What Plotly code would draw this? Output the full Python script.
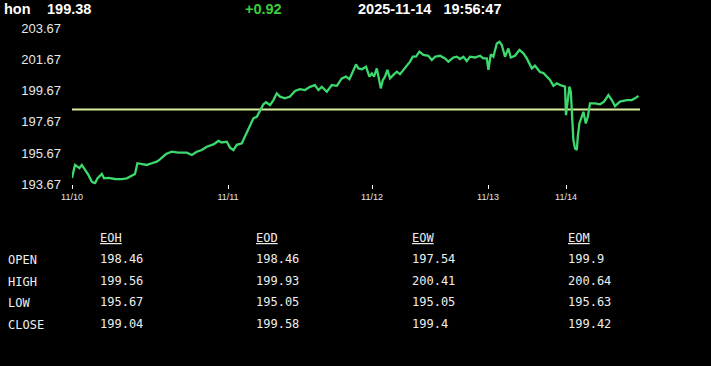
import plotly.graph_objects as go

W, H = 711, 366

# ---- data ----
symbol = "hon"
last_price = "199.38"
change = "+0.92"
stamp = "2025-11-14   19:56:47"

session_idx = [0, 1.5, 2.7, 3.7, 4.9, 6.5, 8.2, 9.9, 11.5, 12.7, 14.9, 16, 18.2, 21.5, 24.9, 27.4,
               29.9, 31.5, 32.7, 34.9, 37.4, 39.9, 42.4, 44, 47, 49.9, 53.2, 57.4, 59.9, 62.4, 64.9,
               67.4, 70.7, 73.2, 74.9, 77.4, 79, 80.7, 82.4, 84.9, 86.5, 88.2, 90.7, 92.4, 94, 95.7,
               97, 99, 100.7, 102.4, 104, 106.5, 109, 111.5, 114, 116.5, 119, 121.5, 123.2, 124.9,
               127.4, 129.9, 132.4, 134.9, 137, 138.7, 140.4, 142, 143.2, 144.9, 147, 148.7, 149.9,
               151, 152.4, 153.5, 154.4, 155.4, 156.5, 157.7, 159, 160.7, 162.4, 164, 165.7, 167.4,
               169, 170.4, 172, 173.7, 175.7, 178.2, 179.9, 181.5, 184, 186.5, 188.2, 190.7, 192.4,
               194, 195.7, 197.4, 199, 201.5, 204, 205.7, 207.4, 208.2, 209.4, 210.7, 212.4, 213.7,
               214.9, 216.5, 218.2, 219.4, 221.5, 223.7, 225.7, 227.4, 229.9, 231.5, 234, 235.7,
               237.7, 239, 240.7, 242.4, 244.9, 246.5, 247, 247.7, 248.7, 249.4, 249.9, 250.7, 251.5,
               252.4, 252.9, 253.7, 254.9, 255.7, 256.9, 257.9, 259, 261.5, 264, 266, 268.2, 269.9,
               271.5, 274, 277.4, 279.9, 281.5, 283.2]
price = [194.08, 194.91, 194.80, 194.70, 194.91, 194.59, 194.27, 193.84, 193.73, 194.05, 194.33,
         194.05, 194.08, 194.01, 194.00, 194.05, 194.20, 194.33, 195.02, 194.99, 194.91, 195.02,
         195.12, 195.27, 195.61, 195.76, 195.70, 195.70, 195.55, 195.76, 195.87, 196.08, 196.23,
         196.45, 196.35, 196.40, 196.02, 195.86, 196.20, 196.30, 196.72, 197.15, 197.90, 198.00,
         198.43, 198.80, 198.93, 198.75, 199.07, 199.50, 199.29, 199.18, 199.29, 199.65, 199.77,
         199.71, 199.92, 200.03, 199.71, 199.92, 199.60, 200.03, 199.98, 200.46, 200.57, 200.40,
         200.89, 201.36, 201.10, 201.05, 201.21, 200.57, 200.78, 200.57, 201.10, 200.46, 199.82,
         200.35, 200.57, 201.00, 200.46, 200.68, 200.89, 200.73, 201.00, 201.20, 201.53, 201.85,
         201.85, 202.17, 201.96, 201.91, 201.64, 201.85, 201.91, 201.74, 201.53, 201.80, 201.85,
         201.70, 201.85, 201.57, 201.85, 201.80, 201.91, 201.74, 201.74, 201.00, 202.00, 201.85,
         202.70, 202.81, 202.60, 201.85, 202.38, 201.80, 201.91, 202.28, 202.07, 201.74, 201.10,
         201.27, 200.87, 200.80, 200.57, 200.36, 199.98, 200.14, 199.99, 199.93, 198.10, 198.85,
         199.93, 199.60, 198.00, 196.51, 195.97, 195.87, 196.72, 197.57, 198.00, 198.32, 197.57,
         198.00, 198.86, 198.86, 198.80, 198.97, 199.39, 199.07, 198.68, 198.97, 199.07, 199.07,
         199.18, 199.33]

open_level = 198.46
axis_end_idx = 284

date_tick_idx = [0, 78, 150, 208, 247]
date_tick_text = ["11/10", "11/11", "11/12", "11/13", "11/14"]
price_ticks = [193.67, 195.67, 197.67, 199.67, 201.67, 203.67]
price_tick_text = ["193.67", "195.67", "197.67", "199.67", "201.67", "203.67"]

row_labels = ["OPEN", "HIGH", "LOW", "CLOSE"]
col_labels = ["EOH", "EOD", "EOW", "EOM"]
eoh = ["198.46", "199.56", "195.67", "199.04"]
eod = ["198.46", "199.93", "195.05", "199.58"]
eow = ["197.54", "200.41", "195.05", "199.4"]
eom = ["199.9", "200.64", "195.63", "199.42"]
table_cols = [eoh, eod, eow, eom]

# ---- figure ----
fig = go.Figure()
fig.add_trace(go.Scatter(x=[0, axis_end_idx], y=[open_level, open_level], mode="lines",
                         line=dict(color="#d8ec9e", width=2), hoverinfo="skip"))
fig.add_trace(go.Scatter(x=session_idx, y=price, mode="lines",
                         line=dict(color="#3cd96c", width=2.3)))

def px_x(p):
    return p / W

def px_y(p):
    return 1 - p / H

fig.update_layout(
    width=W, height=H, paper_bgcolor="black", plot_bgcolor="black",
    margin=dict(l=0, r=0, t=0, b=0, pad=0, autoexpand=False), showlegend=False,
    xaxis=dict(domain=[px_x(72), px_x(640)], range=[0, axis_end_idx], showgrid=False,
               zeroline=False, showline=False, automargin=False,
               tickmode="array", tickvals=date_tick_idx,
               ticktext=date_tick_text, ticks="outside", ticklen=4, tickcolor="white",
               tickwidth=1, tickfont=dict(family="Liberation Sans", size=9, color="#e6e6e6"),
               ticklabelstandoff=0),
    yaxis=dict(domain=[px_y(184.3), px_y(28.3)], range=[193.67, 203.67], showgrid=False,
               zeroline=False, showline=False, automargin=False,
               tickmode="array", tickvals=price_ticks,
               ticktext=price_tick_text, ticks="",
               tickfont=dict(family="Liberation Sans", size=13, color="#e8e8e8"),
               ticklabelstandoff=10),
)

ann = []
hdr_font = dict(family="Liberation Sans, Arial", size=14.5, color="white", weight="bold")
for txt, x, col in [(symbol, 3, "white"), (last_price, 46, "white"),
                    (change, 244, "#3ccc3c"), (stamp, 357, "white")]:
    f = dict(hdr_font)
    f["color"] = col
    ann.append(dict(text=txt, x=px_x(x), y=px_y(9.5), xref="paper", yref="paper",
                    xanchor="left", yanchor="middle", showarrow=False, font=f,
                    xshift=-1))

mono = dict(family="DejaVu Sans Mono", size=12, color="#eeeeee")
row_y = [258.5, 280.5, 302, 324]
col_x = [98, 254, 410, 566]
for lbl, y in zip(row_labels, row_y):
    ann.append(dict(text=lbl, x=px_x(6), y=px_y(y + 1), xref="paper", yref="paper",
                    xanchor="left", yanchor="middle", showarrow=False, font=mono))
for head, x, vals in zip(col_labels, col_x, table_cols):
    ann.append(dict(text="<u>" + head + "</u>", x=px_x(x), y=px_y(238), xref="paper",
                    yref="paper", xanchor="left", yanchor="middle", showarrow=False, font=mono))
    for v, y in zip(vals, row_y):
        ann.append(dict(text=v, x=px_x(x), y=px_y(y), xref="paper", yref="paper",
                        xanchor="left", yanchor="middle", showarrow=False, font=mono))

fig.update_layout(annotations=ann)
fig.write_html("out.html")
